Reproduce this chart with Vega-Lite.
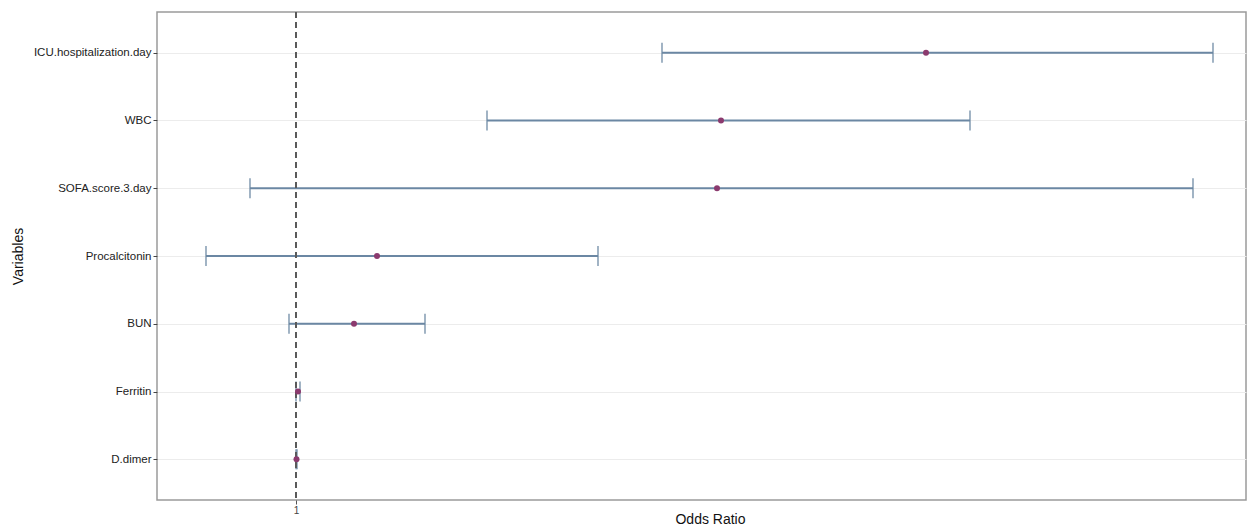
{
  "$schema": "https://vega.github.io/schema/vega-lite/v6.json",
  "width": 1089,
  "height": 488,
  "autosize": {"type": "none"},
  "padding": {"left": 157, "top": 12, "right": 13, "bottom": 27},
  "background": "white",
  "config": {
    "view": {"stroke": "#9a9a9a", "strokeWidth": 1.5},
    "font": "Liberation Sans"
  },
  "data": {
    "values": [
      {"variable": "ICU.hospitalization.day", "lower": 1.366, "or": 1.630, "upper": 1.917},
      {"variable": "WBC", "lower": 1.191, "or": 1.425, "upper": 1.674},
      {"variable": "SOFA.score.3.day", "lower": 0.954, "or": 1.421, "upper": 1.897},
      {"variable": "Procalcitonin  ", "lower": 0.910, "or": 1.081, "upper": 1.302},
      {"variable": "BUN", "lower": 0.993, "or": 1.058, "upper": 1.129},
      {"variable": "Ferritin", "lower": 1.000, "or": 1.002, "upper": 1.004},
      {"variable": "D.dimer", "lower": 1.000, "or": 1.0005, "upper": 1.001}
    ]
  },
  "layer": [
    {
      "mark": {"type": "rule", "color": "#6b87a3", "strokeWidth": 2},
      "encoding": {
        "y": {
          "field": "variable", "type": "nominal",
          "sort": ["ICU.hospitalization.day", "WBC", "SOFA.score.3.day", "Procalcitonin  ", "BUN", "Ferritin", "D.dimer"],
          "scale": {"type": "point", "padding": 0.6},
          "axis": {
            "title": "Variables", "titleFontSize": 14, "titleFontWeight": "normal", "titleColor": "#111",
            "titleX": -139, "titleY": 244, "titleBaseline": "middle", "titleAlign": "center",
            "domain": false, "ticks": true, "tickColor": "#444", "tickSize": 4,
            "labelFontSize": 11.5, "labelColor": "#222", "labelPadding": 2,
            "grid": true, "gridColor": "#ececec", "gridWidth": 1.2
          }
        },
        "x": {
          "field": "lower", "type": "quantitative",
          "scale": {"domain": [0.861, 1.95], "nice": false, "zero": false},
          "axis": {
            "values": [1], "format": "~g", "grid": false, "domain": false,
            "tickColor": "#555", "tickSize": 4,
            "labelFontSize": 10, "labelColor": "#444", "labelPadding": 1,
            "title": "Odds Ratio", "titleFontSize": 14, "titleFontWeight": "normal", "titleColor": "#111",
            "titleX": 553, "titleY": 23, "titleBaseline": "alphabetic"
          }
        },
        "x2": {"field": "upper"}
      }
    },
    {
      "mark": {"type": "tick", "color": "#6b87a3", "thickness": 1.8, "size": 20},
      "encoding": {
        "y": {"field": "variable", "type": "nominal", "sort": ["ICU.hospitalization.day", "WBC", "SOFA.score.3.day", "Procalcitonin  ", "BUN", "Ferritin", "D.dimer"]},
        "x": {"field": "lower", "type": "quantitative"}
      }
    },
    {
      "mark": {"type": "tick", "color": "#6b87a3", "thickness": 1.8, "size": 20},
      "encoding": {
        "y": {"field": "variable", "type": "nominal", "sort": ["ICU.hospitalization.day", "WBC", "SOFA.score.3.day", "Procalcitonin  ", "BUN", "Ferritin", "D.dimer"]},
        "x": {"field": "upper", "type": "quantitative"}
      }
    },
    {
      "mark": {"type": "rule", "color": "#5a5a5a", "strokeWidth": 1.6, "strokeDash": [6, 4]},
      "encoding": {"x": {"datum": 1}}
    },
    {
      "mark": {"type": "circle", "color": "#8b3a6e", "size": 36, "opacity": 1},
      "encoding": {
        "y": {"field": "variable", "type": "nominal", "sort": ["ICU.hospitalization.day", "WBC", "SOFA.score.3.day", "Procalcitonin  ", "BUN", "Ferritin", "D.dimer"]},
        "x": {"field": "or", "type": "quantitative"}
      }
    }
  ]
}
